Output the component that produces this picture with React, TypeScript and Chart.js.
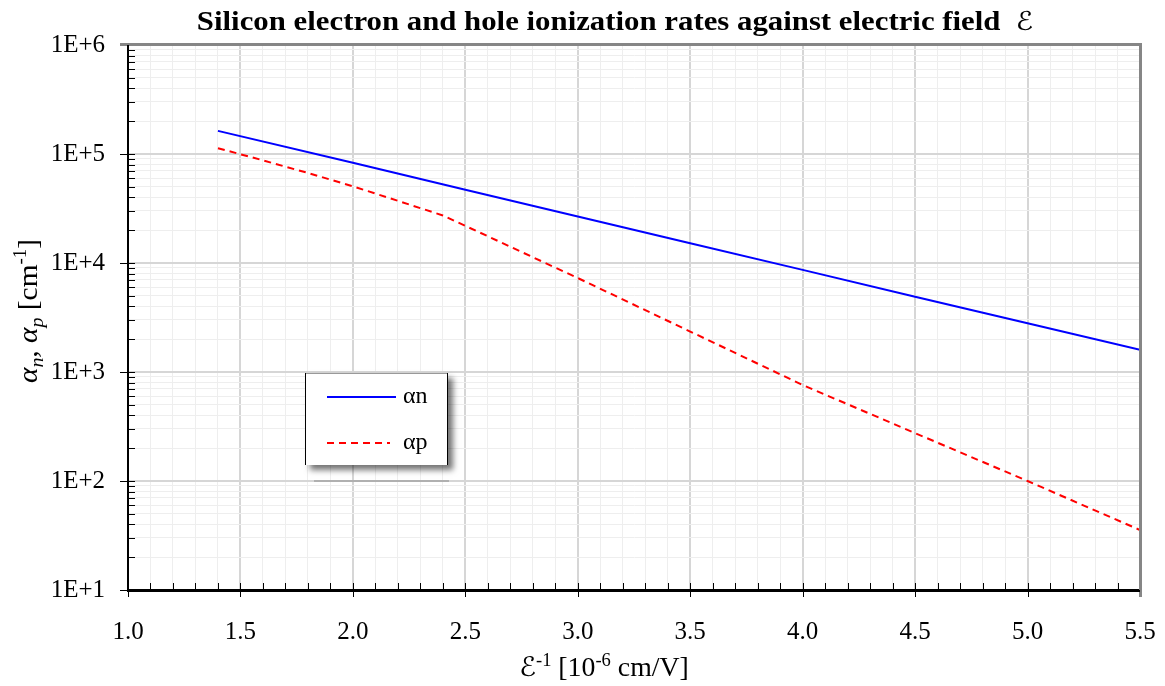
import { useEffect, useRef } from 'react';
import { Chart, registerables } from 'chart.js';

Chart.register(...registerables);

// Inverse field 1/E in units of 1e-6 cm/V, ionization rates in 1/cm
const invFieldN = [1.4, 2.0, 2.5, 3.0, 3.5, 4.0, 4.5, 5.0, 5.5];
const alphaN = [1.63e5, 8.3e4, 4.7e4, 2.67e4, 1.52e4, 8.65e3, 4.9e3, 2.8e3, 1.6e3];

const invFieldP = [1.4, 1.6, 1.8, 2.0, 2.2, 2.4, 2.5, 2.6, 2.8, 3.0, 3.5, 4.0, 4.5, 5.0, 5.5];
const alphaP = [1.13e5, 8.75e4, 6.7e4, 5.05e4, 3.72e4, 2.73e4, 2.19e4, 1.76e4, 1.13e4, 7.28e3, 2.35e3, 760, 275, 100, 35.5];

const seriesLabels = ['αn', 'αp'];
const xTickLabels = ['1.0', '1.5', '2.0', '2.5', '3.0', '3.5', '4.0', '4.5', '5.0', '5.5'];
const yTickLabels = ['1E+1', '1E+2', '1E+3', '1E+4', '1E+5', '1E+6'];

const titleText = 'Silicon electron and hole ionization rates against electric field';

const SERIF = "'Liberation Serif', 'Times New Roman', 'DejaVu Serif', serif";
const SCRIPT = "'Liberation Serif', 'DejaVu Serif', 'DejaVu Sans', serif";

type Seg = { text: string; font: string; dy?: number };

function segWidth(ctx: CanvasRenderingContext2D, segs: Seg[]) {
  let w = 0;
  for (const s of segs) {
    ctx.font = s.font;
    w += ctx.measureText(s.text).width;
  }
  return w;
}

// draws a run of mixed-style text centred on cx, optionally stretched horizontally
function drawSegs(ctx: CanvasRenderingContext2D, segs: Seg[], cx: number, baseY: number, sx = 1) {
  ctx.save();
  ctx.translate(cx, baseY);
  ctx.scale(sx, 1);
  let x = -segWidth(ctx, segs) / 2;
  ctx.textAlign = 'left';
  ctx.textBaseline = 'alphabetic';
  for (const s of segs) {
    ctx.font = s.font;
    ctx.fillText(s.text, x, s.dy || 0);
    x += ctx.measureText(s.text).width;
  }
  ctx.restore();
}

const isHalf = (v: number) => Math.abs(v * 2 - Math.round(v * 2)) < 1e-6;
const isDecade = (v: number) => {
  const e = Math.log10(v);
  return Math.abs(e - Math.round(e)) < 1e-9;
};

const decorPlugin = {
  id: 'decor',
  afterDraw(chart: any) {
    const { ctx, chartArea: a, scales } = chart;
    const xs = scales.x;
    const ys = scales.y;
    ctx.save();

    // tick marks: minor inside the plot, major crossing the axis
    ctx.strokeStyle = '#000';
    ctx.lineWidth = 1;
    ctx.beginPath();
    for (let i = 10; i <= 55; i++) {
      const px = Math.round(xs.getPixelForValue(i / 10)) + 0.5;
      const major = i % 5 === 0;
      ctx.moveTo(px, a.bottom - 7);
      ctx.lineTo(px, major ? a.bottom + 7 : a.bottom);
    }
    for (let e = 1; e <= 6; e++) {
      for (let m = 1; m <= 9; m++) {
        if (e === 6 && m > 1) break;
        const py = Math.round(ys.getPixelForValue(m * Math.pow(10, e))) + 0.5;
        ctx.moveTo(a.left + 7, py);
        ctx.lineTo(m === 1 ? a.left - 8 : a.left, py);
      }
    }
    ctx.stroke();

    // plot frame: gray top/right, black axes left/bottom
    ctx.strokeStyle = '#868686';
    ctx.lineWidth = 3;
    ctx.beginPath();
    ctx.moveTo(a.left - 8, a.top - 0.5);
    ctx.lineTo(a.right + 1, a.top - 0.5);
    ctx.moveTo(a.right + 0.5, a.top - 2);
    ctx.lineTo(a.right + 0.5, a.bottom + 7);
    ctx.stroke();
    ctx.strokeStyle = '#000';
    ctx.lineWidth = 2;
    ctx.beginPath();
    ctx.moveTo(a.left, a.top);
    ctx.lineTo(a.left, a.bottom + 1);
    ctx.moveTo(a.left - 1, a.bottom + 1);
    ctx.lineTo(a.right, a.bottom + 1);
    ctx.stroke();

    // title
    ctx.fillStyle = '#000';
    drawSegs(ctx, [
      { text: titleText + '  ', font: `bold 28px ${SERIF}` },
      { text: 'ℰ', font: `italic 26px ${SCRIPT}` },
    ], 615, 30, 1.1);

    // x-axis title
    drawSegs(ctx, [
      { text: 'ℰ', font: `italic 27px ${SCRIPT}` },
      { text: '-1', font: `18px ${SERIF}`, dy: -10 },
      { text: ' [10', font: `27px ${SERIF}` },
      { text: '-6', font: `18px ${SERIF}`, dy: -10 },
      { text: ' cm/V]', font: `27px ${SERIF}` },
    ], 604, 676, 1.03);

    // y-axis title, rotated
    ctx.save();
    ctx.translate(37, 311);
    ctx.rotate(-Math.PI / 2);
    drawSegs(ctx, [
      { text: 'α', font: `italic 28px ${SERIF}` },
      { text: 'n', font: `italic 19px ${SERIF}`, dy: 6 },
      { text: ', ', font: `28px ${SERIF}` },
      { text: 'α', font: `italic 28px ${SERIF}` },
      { text: 'p', font: `italic 19px ${SERIF}`, dy: 6 },
      { text: ' [cm', font: `28px ${SERIF}` },
      { text: '-1', font: `18px ${SERIF}`, dy: -11 },
      { text: ']', font: `28px ${SERIF}` },
    ], 0, 0, 1.05);
    ctx.restore();

    // legend box with drop shadow
    const lx = 305, ly = 373, lw = 143, lh = 92;
    ctx.save();
    ctx.shadowColor = 'rgba(0,0,0,0.55)';
    ctx.shadowBlur = 6;
    ctx.shadowOffsetX = 5;
    ctx.shadowOffsetY = 5;
    ctx.fillStyle = '#fff';
    ctx.fillRect(lx, ly, lw, lh);
    ctx.restore();
    ctx.lineWidth = 1;
    ctx.strokeStyle = '#999';
    ctx.beginPath();
    ctx.moveTo(lx, ly + 0.5);
    ctx.lineTo(lx + lw, ly + 0.5);
    ctx.stroke();
    ctx.strokeStyle = '#000';
    ctx.beginPath();
    ctx.moveTo(lx + 0.5, ly);
    ctx.lineTo(lx + 0.5, ly + lh);
    ctx.moveTo(lx + lw - 0.5, ly);
    ctx.lineTo(lx + lw - 0.5, ly + lh);
    ctx.stroke();

    const ds = chart.data.datasets;
    const rows = [397, 443];
    rows.forEach((ry: number, i: number) => {
      ctx.strokeStyle = ds[i].borderColor;
      ctx.lineWidth = 2;
      ctx.setLineDash(ds[i].borderDash || []);
      ctx.beginPath();
      ctx.moveTo(327, ry);
      ctx.lineTo(i === 0 ? 396 : 390, ry);
      ctx.stroke();
      ctx.setLineDash([]);
      ctx.fillStyle = '#000';
      ctx.font = `24px ${SERIF}`;
      ctx.textAlign = 'left';
      ctx.textBaseline = 'middle';
      ctx.fillText(ds[i].label, 403, ry);
    });

    // gray rule beneath the legend
    ctx.strokeStyle = '#b0b0b0';
    ctx.lineWidth = 2;
    ctx.beginPath();
    ctx.moveTo(314, 481);
    ctx.lineTo(449, 481);
    ctx.stroke();

    ctx.restore();
  },
};

export default function App() {
  const ref = useRef<HTMLCanvasElement>(null);

  useEffect(() => {
    document.body.style.margin = '0';
    const chart = new Chart(ref.current as HTMLCanvasElement, {
      type: 'line',
      data: {
        datasets: [
          {
            label: seriesLabels[0],
            data: invFieldN.map((x, i) => ({ x, y: alphaN[i] })),
            borderColor: '#0000ff',
            borderWidth: 2,
            pointRadius: 0,
            tension: 0,
            fill: false,
          },
          {
            label: seriesLabels[1],
            data: invFieldP.map((x, i) => ({ x, y: alphaP[i] })),
            borderColor: '#ff0000',
            borderWidth: 2,
            borderDash: [7, 5],
            pointRadius: 0,
            tension: 0,
            fill: false,
          },
        ],
      },
      options: {
        animation: false,
        responsive: true,
        maintainAspectRatio: false,
        layout: { padding: { left: 0, top: 45, right: 25, bottom: 0 } },
        plugins: {
          legend: { display: false },
          title: { display: false },
          tooltip: { enabled: false },
        },
        scales: {
          x: {
            type: 'linear',
            min: 1,
            max: 5.5,
            afterBuildTicks: (axis: any) => {
              const t = [];
              for (let i = 10; i <= 55; i++) t.push({ value: i / 10 });
              axis.ticks = t;
            },
            afterFit: (axis: any) => {
              axis.height = 96;
              axis.paddingLeft = 0;
              axis.paddingRight = 0;
            },
            grid: {
              drawTicks: false,
              color: (c: any) => (c.tick && isHalf(c.tick.value) ? '#d6d6d6' : '#eeeeee'),
              lineWidth: (c: any) => (c.tick && isHalf(c.tick.value) ? 2 : 1),
            },
            border: { display: true, color: '#000', width: 2 },
            ticks: {
              autoSkip: false,
              maxRotation: 0,
              padding: 27,
              color: '#000',
              font: { family: SERIF, size: 25 },
              callback: (v: any) => (isHalf(Number(v)) ? xTickLabels[Math.round((Number(v) - 1) * 2)] : ''),
            },
          },
          y: {
            type: 'logarithmic',
            min: 10,
            max: 1e6,
            afterBuildTicks: (axis: any) => {
              const t = [];
              for (let e = 1; e <= 5; e++) {
                for (let m = 1; m <= 9; m++) t.push({ value: m * Math.pow(10, e) });
              }
              t.push({ value: 1e6 });
              axis.ticks = t;
            },
            afterFit: (axis: any) => {
              axis.width = 128;
              axis.paddingTop = 0;
              axis.paddingBottom = 0;
            },
            grid: {
              drawTicks: false,
              color: (c: any) => (c.tick && isDecade(c.tick.value) ? '#d6d6d6' : '#eeeeee'),
              lineWidth: (c: any) => (c.tick && isDecade(c.tick.value) ? 2 : 1),
            },
            border: { display: true, color: '#000', width: 2 },
            ticks: {
              autoSkip: false,
              padding: 23,
              color: '#000',
              font: { family: SERIF, size: 25 },
              callback: (v: any) => (isDecade(Number(v)) ? yTickLabels[Math.round(Math.log10(Number(v))) - 1] : ''),
            },
          },
        },
      },
      plugins: [decorPlugin],
    });
    return () => chart.destroy();
  }, []);

  return (
    <div style={{ position: 'relative', width: 1165, height: 686 }}>
      <canvas ref={ref} />
    </div>
  );
}
